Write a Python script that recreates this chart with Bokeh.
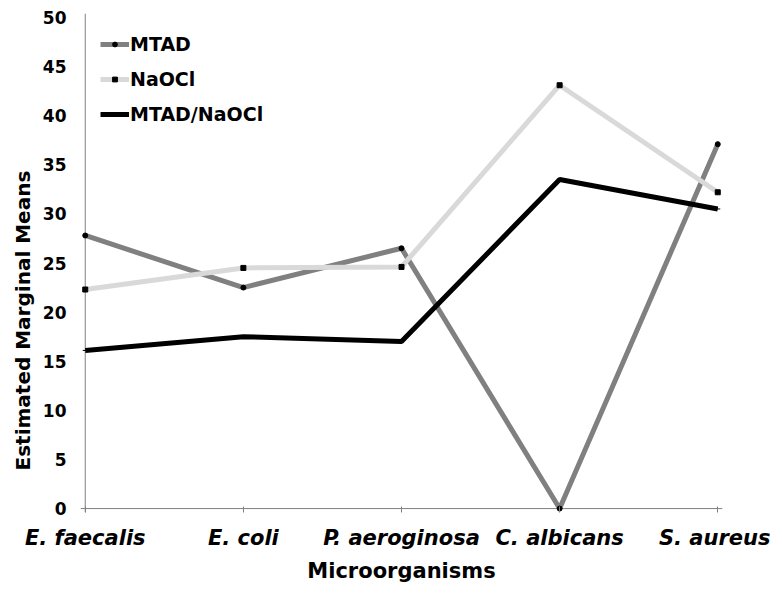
from bokeh.plotting import figure
from bokeh.models import FixedTicker, Range1d, Legend, LegendItem, Span, Title
from bokeh.embed import file_html
from bokeh.resources import INLINE

categories = ["E. faecalis", "E. coli", "P. aeroginosa", "C. albicans", "S. aureus"]
mtad = [27.8, 22.5, 26.5, 0.0, 37.1]
naocl = [22.3, 24.5, 24.6, 43.1, 32.2]
mtad_naocl = [16.1, 17.5, 17.0, 33.5, 30.5]
y_ticks = [0, 5, 10, 15, 20, 25, 30, 35, 40, 45, 50]

xs = list(range(len(categories)))
FONT = "DejaVu Sans"
W, H = 770, 585

p = figure(width=W, height=H, output_backend="svg", toolbar_location=None,
           x_range=Range1d(-0.03, 4.03), y_range=Range1d(-0.4, 50.4),
           min_border_left=80, min_border_right=48, min_border_top=13, min_border_bottom=68)
p.outline_line_color = None
p.grid.visible = False
p.background_fill_color = "white"
p.border_fill_color = "white"

# axes
p.xaxis.ticker = FixedTicker(ticks=xs)
p.xaxis.major_label_overrides = {i: c for i, c in enumerate(categories)}
p.xaxis.major_label_text_font = FONT
p.xaxis.major_label_text_font_style = "bold italic"
p.xaxis.major_label_text_font_size = "21px"
p.xaxis.major_label_text_color = "black"
p.xaxis.major_label_standoff = 13
p.xaxis.major_tick_in = 6
p.xaxis.major_tick_out = 0
p.xaxis.major_tick_line_color = "#808080"
p.xaxis.minor_tick_line_color = None
p.xaxis.axis_line_color = None
p.xaxis.axis_label = "Microorganisms"
p.xaxis.axis_label_text_font = FONT
p.xaxis.axis_label_text_font_style = "bold"
p.xaxis.axis_label_text_font_size = "21px"
p.xaxis.axis_label_text_color = "black"
p.xaxis.axis_label_standoff = 6

p.yaxis.ticker = FixedTicker(ticks=y_ticks)
p.yaxis.major_label_text_font = FONT
p.yaxis.major_label_text_font_style = "bold"
p.yaxis.major_label_text_font_size = "17px"
p.yaxis.major_label_text_color = "black"
p.yaxis.major_label_standoff = 14
p.yaxis.major_tick_in = 0
p.yaxis.major_tick_out = 0
p.yaxis.minor_tick_line_color = None
p.yaxis.axis_line_color = None

# y-axis title as a side title so it can be shifted along the axis
ytitle = Title(text="Estimated Marginal Means", align="left", offset=42,
               text_font=FONT, text_font_style="bold", text_font_size="20px",
               text_color="black", standoff=10)
p.add_layout(ytitle, "left")

p.add_layout(Span(location=0, dimension="width", line_color="#808080", line_width=1, level="underlay"))
p.add_layout(Span(location=0, dimension="height", line_color="#808080", line_width=1, level="underlay"))

l1 = p.line(xs, mtad, line_color="#808080", line_width=5)
m1 = p.scatter(xs, mtad, marker="circle", size=5, color="black")
l2 = p.line(xs, naocl, line_color="#d9d9d9", line_width=5)
m2 = p.scatter(xs, naocl, marker="square", size=5, color="black")
l3 = p.line(xs, mtad_naocl, line_color="black", line_width=5)
m3 = p.scatter(xs, mtad_naocl, marker="dash", size=5, color="black")

legend = Legend(items=[
    LegendItem(label="MTAD", renderers=[l1, m1]),
    LegendItem(label="NaOCl", renderers=[l2, m2]),
    LegendItem(label="MTAD/NaOCl", renderers=[l3, m3]),
], location=(20, 387), margin=0, padding=0, spacing=13,
    glyph_width=29, glyph_height=12, label_height=20, label_standoff=1,
    label_text_font=FONT, label_text_font_style="bold", label_text_font_size="19px",
    label_text_color="black", border_line_color=None, background_fill_alpha=0)
p.add_layout(legend, "center")

open("out.html", "w").write(file_html(p, INLINE))
